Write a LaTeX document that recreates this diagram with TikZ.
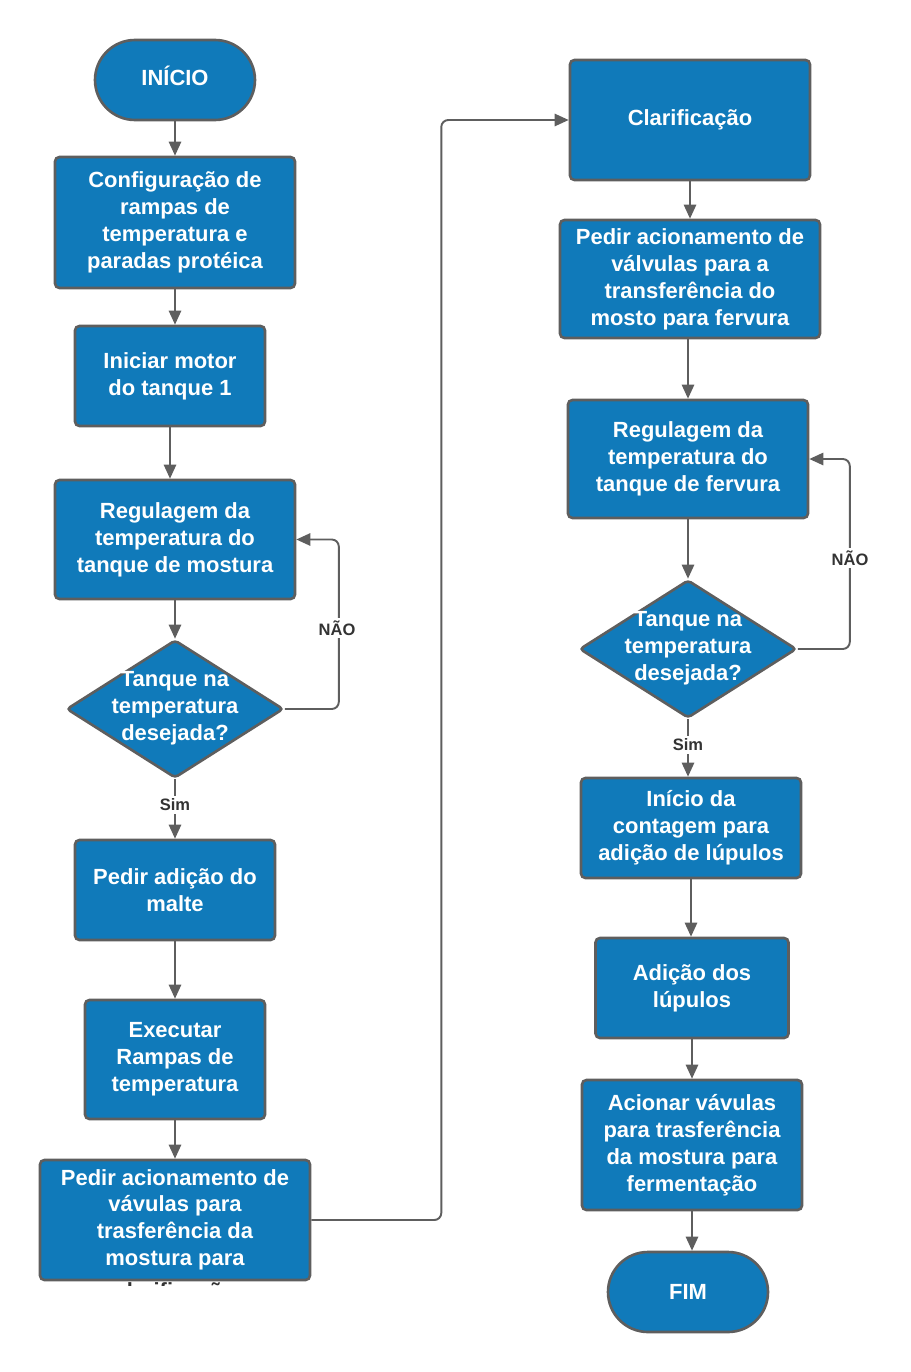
\documentclass[tikz,border=0pt]{standalone}
\usepackage{fontspec}
\setmainfont{Liberation Sans}
\usetikzlibrary{shapes.geometric, arrows.meta}
\definecolor{flowblue}{RGB}{16,122,186}
\definecolor{edgegray}{RGB}{94,94,94}
\definecolor{labelgray}{RGB}{51,51,51}

\begin{document}
\begin{tikzpicture}[x = 0.02cm, y = -0.02cm,
        box/.style = {draw = edgegray, line width = 1.5pt, fill = flowblue, rounded corners = 2.5pt,
                      text = white, font = \fontsize{12.5}{15.3}\selectfont\bfseries, align = center},
        terminal/.style = {box, rounded corners = 0.8cm, minimum width = 3.2cm, minimum height = 1.6cm},
        decision/.style = {diamond, draw = edgegray, line width = 1.5pt, fill = flowblue, inner sep = 0pt,
                           minimum width = 4.34cm, minimum height = 2.76cm, rounded corners = 2pt},
        dtext/.style = {text = white, font = \fontsize{12.5}{15.3}\selectfont\bfseries, align = center},
        flow/.style = {draw = edgegray, line width = 1.1pt, -{Triangle[width = 7pt, length = 8pt]}},
        answer/.style = {fill = white, text = labelgray, font = \fontsize{9.4}{11}\selectfont\bfseries, inner sep = 1.5pt}]
        \useasboundingbox (0,0) rectangle (910,1372);

        % coluna da esquerda
        \node[terminal] (inicio) at (175,80) {\raisebox{5pt}{IN\'ICIO}};
        \node[box, minimum width = 4.8cm, minimum height = 2.62cm] (config) at (175,222.5)
            {Configura\c{c}\~ao de\\rampas de\\temperatura e\\paradas prot\'eica};
        \node[box, minimum width = 3.8cm, minimum height = 2cm] (motor) at (170,376)
            {Iniciar motor\\do tanque 1};
        \node[box, minimum width = 4.8cm, minimum height = 2.38cm] (regmost) at (175,539.5)
            {Regulagem da\\temperatura do\\tanque de mostura};
        \node[decision] (testmost) at (175,709) {};
        \node[dtext] (qmost) at (175,708) {Tanque na\\temperatura\\desejada?};
        \node[box, minimum width = 4cm, minimum height = 2cm] (malte) at (175,890)
            {Pedir adi\c{c}\~ao do\\malte};
        \node[box, minimum width = 3.6cm, minimum height = 2.38cm] (rampas) at (175,1059.5)
            {Executar\\Rampas de\\temperatura};
        \node[box, minimum width = 5.4cm, minimum height = 2.4cm] (transf) at (175,1220)
            {\raisebox{-6pt}{\begin{tabular}{@{}c@{}}Pedir acionamento de\\v\'avulas para\\trasfer\^encia da\\mostura para\end{tabular}}};
        \begin{scope}
            \clip (40,1281.5) rectangle (310,1285);
            \node[text = labelgray, font = \fontsize{12.5}{15.3}\selectfont\bfseries] (transfcut) at (175,1293) {clarifica\c{c}\~ao};
        \end{scope}

        % coluna da direita
        \node[box, minimum width = 4.8cm, minimum height = 2.4cm] (clarif) at (690,120) {Clarifica\c{c}\~ao};
        \node[box, minimum width = 5.2cm, minimum height = 2.36cm] (valv) at (690,279)
            {Pedir acionamento de\\v\'alvulas para a\\transfer\^encia do\\mosto para fervura};
        \node[box, minimum width = 4.8cm, minimum height = 2.36cm] (regferv) at (688,459)
            {Regulagem da\\temperatura do\\tanque de fervura};
        \node[decision] (testferv) at (688,649) {};
        \node[dtext] (qferv) at (688,648) {Tanque na\\temperatura\\desejada?};
        \node[box, minimum width = 4.4cm, minimum height = 2cm] (contagem) at (691,828)
            {In\'icio da\\contagem para\\adi\c{c}\~ao de l\'upulos};
        \node[box, minimum width = 3.86cm, minimum height = 2cm] (lupulos) at (692,988)
            {Adi\c{c}\~ao dos\\l\'upulos};
        \node[box, minimum width = 4.4cm, minimum height = 2.6cm] (ferment) at (692,1145)
            {Acionar v\'avulas\\para trasfer\^encia\\da mostura para\\fermenta\c{c}\~ao};
        \node[terminal] (fim) at (688,1292) {FIM};

        % ligacoes
        \draw[flow] (inicio) -- (config);
        \draw[flow] (config.south) -- (config.south |- motor.north);
        \draw[flow] (motor.south) -- (motor.south |- regmost.north);
        \draw[flow] (regmost) -- (testmost);
        \draw[flow, rounded corners = 4pt] (testmost.east) -- ++(54,0) |- (regmost.east);
        \node[answer] (naomost) at (337,628) {N\~AO};
        \draw[flow] (testmost) -- (malte);
        \node[answer] (simmost) at (175,805) {Sim};
        \draw[flow] (malte) -- (rampas);
        \draw[flow] (rampas) -- (transf);
        \draw[flow, rounded corners = 4pt] (transf.east) -- ++(130,0) |- (clarif.west);

        \draw[flow] (clarif) -- (valv);
        \draw[flow] (regferv.north |- valv.south) -- (regferv.north);
        \draw[flow] (regferv) -- (testferv);
        \draw[flow, rounded corners = 4pt] (testferv.east) -- ++(52,0) |- (regferv.east);
        \node[answer] (naoferv) at (850,558) {N\~AO};
        \draw[flow] (testferv.south) -- (testferv.south |- contagem.north);
        \node[answer] (simferv) at (688,745) {Sim};
        \draw[flow] (contagem.south) -- (contagem.south |- lupulos.north);
        \draw[flow] (lupulos) -- (ferment);
        \draw[flow] (ferment.south) -- (ferment.south |- fim.north);
\end{tikzpicture}
\end{document}
